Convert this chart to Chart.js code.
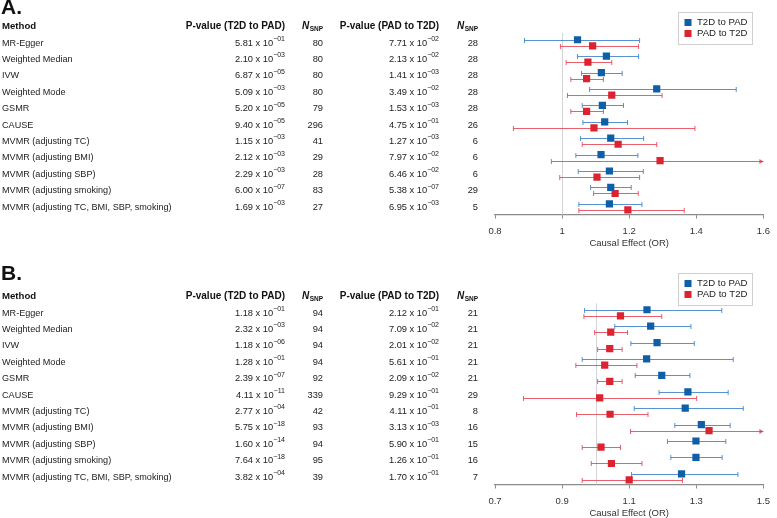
<!DOCTYPE html>
<html>
<head>
<meta charset="utf-8">
<script src="https://cdn.jsdelivr.net/npm/chart.js@4.4.0/dist/chart.umd.min.js"></script>
<style>
html, body { margin: 0; padding: 0; background: #fff; overflow: hidden; }
body { width: 777px; height: 518px; position: relative; }
.panel { position: absolute; left: 0; width: 777px; height: 271px; }
#panelA { top: -15px; }
#panelB { top: 255px; }
</style>
</head>
<body>
<div class="panel" id="panelA"><canvas id="chartA" width="777" height="271"></canvas></div>
<div class="panel" id="panelB"><canvas id="chartB" width="777" height="271"></canvas></div>
<script>
// rows (same for both panels)
const methods = ["MR-Egger", "Weighted Median", "IVW", "Weighted Mode", "GSMR", "CAUSE",
  "MVMR (adjusting TC)", "MVMR (adjusting BMI)", "MVMR (adjusting SBP)",
  "MVMR (adjusting smoking)", "MVMR (adjusting TC, BMI, SBP, smoking)"]
const seriesNames = ["T2D to PAD", "PAD to T2D"]

// ---- panel A ----
const pvalA1 = ["5.81e-01", "2.10e-03", "6.87e-05", "5.09e-03", "5.20e-05", "9.40e-05", "1.15e-03", "2.12e-03", "2.29e-03", "6.00e-07", "1.69e-03"]
const nsnpA1 = [80, 80, 80, 80, 79, 296, 41, 29, 28, 83, 27]
const pvalA2 = ["7.71e-02", "2.13e-02", "1.41e-03", "3.49e-02", "1.53e-03", "4.75e-01", "1.27e-03", "7.97e-02", "6.46e-02", "5.38e-07", "6.95e-03"]
const nsnpA2 = [28, 28, 28, 28, 28, 26, 6, 6, 6, 29, 5]
const orA1 = [1.046, 1.132, 1.117, 1.282, 1.120, 1.127, 1.145, 1.116, 1.141, 1.145, 1.141]
const loA1 = [0.888, 1.046, 1.058, 1.082, 1.060, 1.062, 1.055, 1.041, 1.048, 1.085, 1.050]
const hiA1 = [1.231, 1.228, 1.179, 1.519, 1.183, 1.195, 1.243, 1.226, 1.242, 1.206, 1.238]
const orA2 = [1.091, 1.077, 1.073, 1.148, 1.073, 1.095, 1.167, 1.292, 1.104, 1.158, 1.196]
const loA2 = [0.995, 1.012, 1.026, 1.016, 1.026, 0.855, 1.060, 0.968, 0.993, 1.094, 1.050]
const hiA2 = [1.228, 1.148, 1.123, 1.298, 1.123, 1.396, 1.282, 1.724, 1.231, 1.227, 1.364]
const ticksA = [0.8, 1, 1.2, 1.4, 1.6]

// ---- panel B ----
const pvalB1 = ["1.18e-01", "2.32e-03", "1.18e-06", "1.28e-01", "2.39e-07", "4.11e-11", "2.77e-04", "5.75e-18", "1.60e-14", "7.64e-18", "3.82e-04"]
const nsnpB1 = [94, 94, 94, 94, 92, 339, 42, 93, 94, 95, 39]
const pvalB2 = ["2.12e-01", "7.09e-02", "2.01e-02", "5.61e-01", "2.09e-02", "9.29e-01", "4.11e-01", "3.13e-03", "5.90e-01", "1.26e-01", "1.70e-01"]
const nsnpB2 = [21, 21, 21, 21, 21, 29, 8, 16, 15, 16, 7]
const orB1 = [1.153, 1.164, 1.183, 1.152, 1.197, 1.275, 1.267, 1.315, 1.299, 1.299, 1.256]
const loB1 = [0.967, 1.057, 1.105, 0.960, 1.118, 1.189, 1.115, 1.236, 1.214, 1.224, 1.107]
const hiB1 = [1.376, 1.284, 1.294, 1.410, 1.281, 1.395, 1.440, 1.401, 1.388, 1.377, 1.424]
const orB2 = [1.074, 1.045, 1.042, 1.027, 1.042, 1.012, 1.043, 1.338, 1.016, 1.047, 1.100]
const loB2 = [0.965, 0.997, 1.006, 0.941, 1.006, 0.785, 0.943, 1.104, 0.960, 0.987, 0.960]
const hiB2 = [1.197, 1.095, 1.079, 1.123, 1.079, 1.301, 1.156, 1.622, 1.074, 1.138, 1.259]
const ticksB = [0.7, 0.9, 1.1, 1.3, 1.5]

const FONT = "'Liberation Sans', Arial, sans-serif"
const BLUE = "#0f5ea8", RED = "#dc2330"
const BLUE_CI = "rgba(45,120,200,0.8)", RED_CI = "rgba(228,55,70,0.8)"

function pts(or, lo, hi, shift) {
  return or.map((v, i) => ({x: v, y: i + shift, lo: lo[i], hi: hi[i]}))
}

// p-value as "5.81 x 10^-01"
function drawPval(ctx, str, xr, y) {
  let parts = str.split("e")
  let base = parts[0] + " x 10"
  let exp = parts[1].replace("-", "\u2212")
  ctx.font = "9.3px " + FONT
  let w1 = ctx.measureText(base).width
  ctx.font = "7px " + FONT
  let w2 = ctx.measureText(exp).width
  ctx.textAlign = "left"
  ctx.font = "9.3px " + FONT
  ctx.fillText(base, xr - w1 - w2, y)
  ctx.font = "7px " + FONT
  ctx.fillText(exp, xr - w2, y - 4)
}

function drawNsnp(ctx, xr, y) {
  ctx.font = "italic bold 10px " + FONT
  let w1 = ctx.measureText("N").width
  ctx.font = "bold 6.5px " + FONT
  let w2 = ctx.measureText("SNP").width
  ctx.textAlign = "left"
  ctx.font = "italic bold 10px " + FONT
  ctx.fillText("N", xr - w1 - w2 - 0.5, y)
  ctx.font = "bold 6.5px " + FONT
  ctx.fillText("SNP", xr - w2, y + 3)
}

function makeForest(tbl) {
  return {
    id: "forest" + tbl.letter,
    beforeDatasetsDraw(chart) {
      const ctx = chart.ctx, xs = chart.scales.x, ys = chart.scales.y
      ctx.save()
      // reference line at OR = 1
      let x1 = Math.round(xs.getPixelForValue(1)) + 0.5
      ctx.strokeStyle = "#d4d4d4"
      ctx.lineWidth = 1
      ctx.beginPath()
      ctx.moveTo(x1, ys.getPixelForValue(-0.6))
      ctx.lineTo(x1, chart.chartArea.bottom)
      ctx.stroke()
      // confidence intervals
      chart.data.datasets.forEach(ds => {
        ctx.strokeStyle = ds.ciColor
        ctx.fillStyle = ds.ciColor
        ctx.lineWidth = 1
        ds.data.forEach(p => {
          let y = Math.round(ys.getPixelForValue(p.y)) + 0.5
          let xa = xs.getPixelForValue(Math.max(p.lo, xs.min))
          let xb = xs.getPixelForValue(Math.min(p.hi, xs.max))
          ctx.beginPath()
          ctx.moveTo(xa, y); ctx.lineTo(xb, y)
          ctx.moveTo(xa, y - 2.5); ctx.lineTo(xa, y + 2.5)
          if (p.hi <= xs.max) {
            ctx.moveTo(xb, y - 2.5); ctx.lineTo(xb, y + 2.5)
          }
          ctx.stroke()
          if (p.hi > xs.max) {
            ctx.beginPath()
            ctx.moveTo(xb, y); ctx.lineTo(xb - 4, y - 2.5); ctx.lineTo(xb - 4, y + 2.5)
            ctx.closePath(); ctx.fill()
          }
        })
      })
      ctx.restore()
    },
    afterDraw(chart) {
      const ctx = chart.ctx, ys = chart.scales.y
      ctx.save()
      // panel letter
      ctx.fillStyle = "#111"
      ctx.textBaseline = "alphabetic"
      ctx.textAlign = "left"
      ctx.font = "bold 21px " + FONT
      ctx.fillText(tbl.letter + ".", 1, tbl.letterY)

      // table header
      ctx.textBaseline = "middle"
      let hy = ys.getPixelForValue(-1)
      ctx.font = "bold 9.6px " + FONT
      ctx.fillText("Method", 2, hy)
      ctx.textAlign = "right"
      ctx.font = "bold 10px " + FONT
      ctx.fillText("P-value (T2D to PAD)", 285, hy)
      ctx.fillText("P-value (PAD to T2D)", 439, hy)
      drawNsnp(ctx, 323, hy)
      drawNsnp(ctx, 478, hy)

      // table rows
      ctx.fillStyle = "#222"
      methods.forEach((m, i) => {
        let y = ys.getPixelForValue(i)
        ctx.textAlign = "left"
        ctx.font = "9.1px " + FONT
        ctx.fillText(m, 2, y)
        drawPval(ctx, tbl.p1[i], 285, y)
        drawPval(ctx, tbl.p2[i], 439, y)
        ctx.font = "9.3px " + FONT
        ctx.textAlign = "right"
        ctx.fillText(String(tbl.n1[i]), 323, y)
        ctx.fillText(String(tbl.n2[i]), 478, y)
      })

      // legend box
      let lt = tbl.legendTop
      ctx.strokeStyle = "#cfcfcf"
      ctx.lineWidth = 1
      ctx.strokeRect(678.5, lt + 0.5, 74, 32)
      let cols = [BLUE, RED]
      seriesNames.forEach((s, k) => {
        let y = lt + 10.5 + k * 11
        ctx.fillStyle = cols[k]
        ctx.fillRect(684.5, y - 3.5, 7, 7)
        ctx.fillStyle = "#222"
        ctx.textAlign = "left"
        ctx.font = "9.6px " + FONT
        ctx.fillText(s, 697, y)
      })
      ctx.restore()
    }
  }
}

function makeChart(id, tbl, series1, series2, ticks) {
  return new Chart(document.getElementById(id), {
    type: "scatter",
    data: {
      datasets: [
        {label: seriesNames[0], data: series1, backgroundColor: BLUE, ciColor: BLUE_CI,
         pointStyle: "rect", pointRadius: 5.1, borderWidth: 0},
        {label: seriesNames[1], data: series2, backgroundColor: RED, ciColor: RED_CI,
         pointStyle: "rect", pointRadius: 5.1, borderWidth: 0}
      ]
    },
    options: {
      responsive: false,
      animation: false,
      devicePixelRatio: 1,
      layout: {padding: {left: 495, right: 7.7, top: 25.2, bottom: 0}},
      plugins: {legend: {display: false}, tooltip: {enabled: false}},
      scales: {
        x: {
          type: "linear",
          min: ticks[0],
          max: ticks[ticks.length - 1],
          afterBuildTicks: s => { s.ticks = ticks.map(v => ({value: v})) },
          afterFit: s => { s.height = 41.5 },
          grid: {display: true, drawOnChartArea: false, drawTicks: true, tickLength: 4, color: "#8c8c8c"},
          border: {display: true, color: "#8c8c8c", width: 1.2},
          ticks: {padding: 7, color: "#333", font: {size: 9.5, family: FONT}, maxRotation: 0, autoSkip: false,
            callback: v => String(+v.toFixed(2))},
          title: {display: true, text: "Causal Effect (OR)", color: "#333", font: {size: 9.5, family: FONT},
            padding: {top: 0, bottom: 7}}
        },
        y: {type: "linear", display: false, reverse: true, min: -2, max: 10.45}
      }
    },
    plugins: [makeForest(tbl)]
  })
}

// both canvases are 271 tall; panel A starts 15px above the page
makeChart("chartA",
  {letter: "A", letterY: 28.5, legendTop: 27, p1: pvalA1, n1: nsnpA1, p2: pvalA2, n2: nsnpA2},
  pts(orA1, loA1, hiA1, -0.2), pts(orA2, loA2, hiA2, 0.17), ticksA)

makeChart("chartB",
  {letter: "B", letterY: 25, legendTop: 18, p1: pvalB1, n1: nsnpB1, p2: pvalB2, n2: nsnpB2},
  pts(orB1, loB1, hiB1, -0.2), pts(orB2, loB2, hiB2, 0.17), ticksB)
</script>
</body>
</html>
